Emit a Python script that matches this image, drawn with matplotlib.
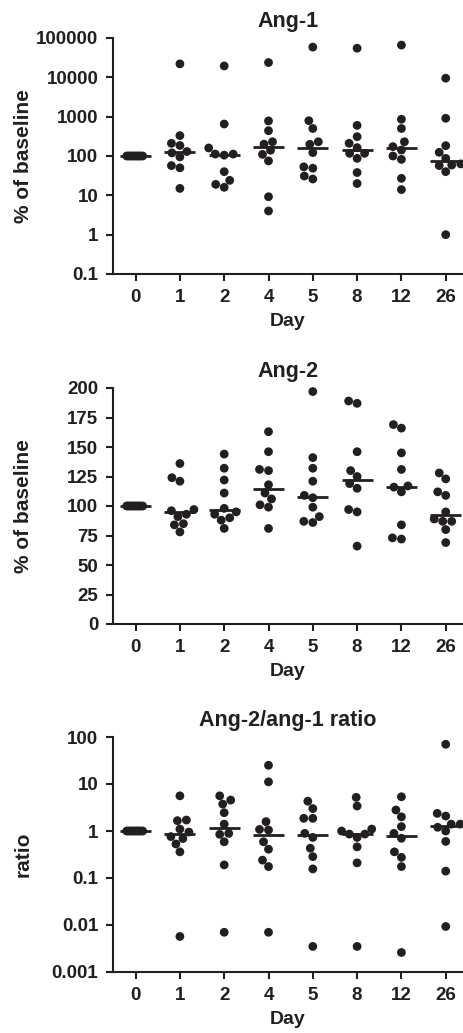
import numpy as np
import matplotlib
matplotlib.use("Agg")
import matplotlib.pyplot as plt

plt.rcParams['font.family'] = ['Liberation Sans', 'DejaVu Sans']
plt.rcParams['font.weight'] = 'bold'

# Data
days = ['0', '1', '2', '4', '5', '8', '12', '26']

ang1 = [
    [100] * 10,
    [22000, 330, 210, 185, 130, 120, 95, 57, 50, 15],
    [19500, 650, 160, 112, 112, 105, 40, 24, 19, 16],
    [23800, 780, 440, 230, 200, 140, 110, 75, 9.2, 4],
    [58700, 790, 500, 230, 198, 122, 53, 49, 31, 26],
    [55000, 600, 310, 210, 163, 117, 117, 87, 38, 20],
    [66000, 860, 500, 230, 173, 142, 100, 82, 27, 14],
    [9500, 910, 183, 124, 87, 63, 59, 57, 40, 1],
]

ang2 = [
    [100] * 10,
    [136, 124, 121, 97, 96, 93, 91, 85, 84, 78],
    [144, 132, 122, 111, 98, 95, 93, 90, 88, 81],
    [163, 146, 131, 130, 118, 111, 106, 101, 99, 81],
    [197, 141, 132, 121, 109, 107, 99, 91, 87, 86],
    [189, 187, 146, 130, 125, 119, 115, 97, 95, 66],
    [169, 166, 145, 131, 117, 116, 112, 84, 73, 72],
    [128, 123, 112, 109, 95, 89, 87, 87, 80, 69],
]

ratio = [
    [1] * 10,
    [5.6, 1.71, 1.66, 1.1, 0.95, 0.76, 0.69, 0.53, 0.36, 0.0057],
    [5.6, 4.55, 3.74, 2.45, 1.4, 0.89, 0.85, 0.59, 0.19, 0.007],
    [25, 11.1, 1.58, 1.08, 1.05, 0.59, 0.41, 0.24, 0.175, 0.007],
    [4.3, 3.0, 1.86, 1.86, 0.89, 0.73, 0.43, 0.285, 0.156, 0.0035],
    [5.2, 3.4, 1.1, 1.0, 0.86, 0.86, 0.73, 0.46, 0.21, 0.0035],
    [5.35, 2.8, 2.0, 1.24, 0.89, 0.7, 0.36, 0.275, 0.175, 0.0026],
    [70, 2.37, 2.08, 1.4, 1.4, 1.2, 1.0, 0.6, 0.14, 0.0093],
]

ang1_ticks = [0.1, 1, 10, 100, 1000, 10000, 100000]
ang1_labels = ['0.1', '1', '10', '100', '1000', '10000', '100000']
ang2_ticks = [0, 25, 50, 75, 100, 125, 150, 175, 200]
ratio_ticks = [0.001, 0.01, 0.1, 1, 10, 100]
ratio_labels = ['0.001', '0.01', '0.1', '1', '10', '100']

INK = '#231f20'
W, H = 464, 1033
DOT = 8.7  # dot diameter in px


def swarm(ax, xpos, vals, cap=0.35):
    # simple beeswarm in pixel space
    disp = ax.transData.transform(np.column_stack([np.full(len(vals), xpos), vals]))
    ys = disp[:, 1]
    thr = DOT * 1.0
    placed = []
    offs = np.zeros(len(vals))
    for i in np.argsort(ys):
        y = ys[i]
        best = None
        k = 0
        while best is None:
            cands = [0.0] if k == 0 else [-k * 0.5, k * 0.5]
            for c in cands:
                if all((c - px) ** 2 + (y - py) ** 2 >= thr ** 2 for px, py in placed):
                    best = c
                    break
            k += 1
        offs[i] = best
        placed.append((best, y))
    unit = ax.transData.transform((1, 1))[0] - ax.transData.transform((0, 1))[0]
    offs = offs / unit
    if np.ptp(vals) == 0:
        cap = 0.2
    m = np.abs(offs).max()
    if m > cap:
        offs *= cap / m
    return xpos + offs


def make_axes(fig, top, bottom):
    left, right = 113, 463
    return fig.add_axes([left / W, 1 - bottom / H, (right - left) / W, (bottom - top) / H])


def style(ax, title, ylabel, ticks, labels, log):
    if log:
        ax.set_yscale('log')
    ax.set_ylim(ticks[0], ticks[-1])
    ax.set_xlim(-0.51, 7.39)
    ax.set_yticks(ticks)
    ax.set_yticklabels(labels)
    ax.minorticks_off()
    ax.set_xticks(range(len(days)))
    ax.set_xticklabels(days)
    for s in ['top', 'right']:
        ax.spines[s].set_visible(False)
    for s in ['left', 'bottom']:
        ax.spines[s].set_linewidth(1.5)
        ax.spines[s].set_color(INK)
    ax.tick_params(axis='both', direction='out', length=5, width=1.5, colors=INK,
                   labelsize=13.5, pad=5.5)
    for lab in ax.get_xticklabels() + ax.get_yticklabels():
        lab.set_fontweight('bold')
    ax.set_title(title, fontsize=15.5, fontweight='bold', color=INK, pad=8)
    ax.set_ylabel(ylabel, fontsize=15, fontweight='bold', color=INK)
    ax.yaxis.set_label_coords(-0.229, 0.5)
    ax.set_xlabel('Day', fontsize=14, fontweight='bold', color=INK, labelpad=5)


def draw(ax, groups):
    for i, vals in enumerate(groups):
        xs = swarm(ax, i, vals)
        ax.scatter(xs, vals, s=40, color=INK, edgecolors='none', zorder=3, clip_on=False)
        med = np.median(vals)
        ax.hlines(med, i - 0.35, i + 0.35, color=INK, lw=2, zorder=4)


fig = plt.figure(figsize=(W / 100, H / 100), dpi=100)

ax1 = make_axes(fig, 38, 274)
style(ax1, 'Ang-1', '% of baseline', ang1_ticks, ang1_labels, True)
draw(ax1, ang1)

ax2 = make_axes(fig, 388, 624)
style(ax2, 'Ang-2', '% of baseline', ang2_ticks, [str(t) for t in ang2_ticks], False)
draw(ax2, ang2)

ax3 = make_axes(fig, 737, 972)
style(ax3, 'Ang-2/ang-1 ratio', 'ratio', ratio_ticks, ratio_labels, True)
draw(ax3, ratio)

fig.savefig('out.png', dpi=100)
